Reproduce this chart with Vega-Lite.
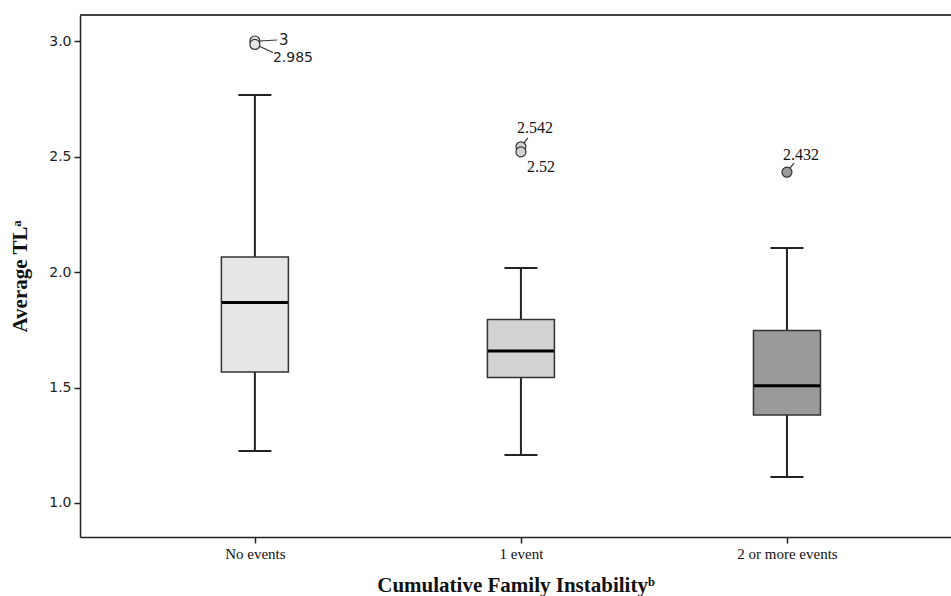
{
  "$schema": "https://vega.github.io/schema/vega-lite/v6.json",
  "width": 871,
  "height": 522,
  "autosize": "none",
  "padding": {"left": 80, "top": 15, "right": 0, "bottom": 59},
  "background": "white",
  "config": {"view": {"stroke": null}},
  "datasets": {
    "boxes": [
      {"group": "No events", "lower": 1.225, "q1": 1.567, "median": 1.868, "q3": 2.065, "upper": 2.766},
      {"group": "1 event", "lower": 1.208, "q1": 1.543, "median": 1.658, "q3": 1.794, "upper": 2.017},
      {"group": "2 or more events", "lower": 1.113, "q1": 1.381, "median": 1.508, "q3": 1.747, "upper": 2.104}
    ],
    "outliers": [
      {"group": "No events", "value": 3.0, "label": "3"},
      {"group": "No events", "value": 2.985, "label": "2.985"},
      {"group": "1 event", "value": 2.542, "label": "2.542"},
      {"group": "1 event", "value": 2.52, "label": "2.52"},
      {"group": "2 or more events", "value": 2.432, "label": "2.432"}
    ]
  },
  "encoding": {
    "x": {
      "field": "group",
      "type": "nominal",
      "sort": ["No events", "1 event", "2 or more events"],
      "scale": {"type": "point", "padding": 0.637, "align": 0.516},
      "axis": {
        "title": "Cumulative Family Instabilityᵇ",
        "labelAngle": 0,
        "labelFont": "Liberation Serif",
        "labelFontSize": 15,
        "labelColor": "#111",
        "labelPadding": 3,
        "tickSize": 6,
        "tickColor": "#222",
        "tickWidth": 1.5,
        "domainColor": "#222",
        "domainWidth": 1.5,
        "titleFont": "Liberation Serif",
        "titleFontSize": 21,
        "titleFontWeight": "bold",
        "titleColor": "#111",
        "titlePadding": 13
      }
    }
  },
  "layer": [
    {
      "data": {"values": [{}]},
      "mark": {"type": "rule", "stroke": "#444", "strokeWidth": 2},
      "encoding": {"x": null, "y": {"datum": 3.1126, "type": "quantitative"}}
    },
    {
      "data": {"name": "boxes"},
      "mark": {"type": "rule", "stroke": "#222", "strokeWidth": 2},
      "encoding": {
        "y": {
          "field": "lower",
          "type": "quantitative",
          "scale": {"domain": [0.8528, 3.1126], "nice": false, "zero": false},
          "axis": {
            "title": "Average TLᵃ",
            "values": [1.0, 1.5, 2.0, 2.5, 3.0],
            "format": ".1f",
            "grid": false,
            "labelFont": "DejaVu Sans",
            "labelFontSize": 14,
            "labelColor": "#222",
            "labelPadding": 3,
            "tickSize": 6,
            "tickColor": "#222",
            "tickWidth": 1.5,
            "domainColor": "#222",
            "domainWidth": 1.5,
            "titleFont": "Liberation Serif",
            "titleFontSize": 21,
            "titleFontWeight": "bold",
            "titleColor": "#111",
            "titlePadding": 18
          }
        },
        "y2": {"field": "upper"}
      }
    },
    {
      "data": {"name": "boxes"},
      "mark": {"type": "tick", "color": "#222", "size": 33, "thickness": 2, "opacity": 1},
      "encoding": {"y": {"field": "lower", "type": "quantitative"}}
    },
    {
      "data": {"name": "boxes"},
      "mark": {"type": "tick", "color": "#222", "size": 33, "thickness": 2, "opacity": 1},
      "encoding": {"y": {"field": "upper", "type": "quantitative"}}
    },
    {
      "data": {"name": "boxes"},
      "mark": {"type": "bar", "size": 67, "stroke": "#333", "strokeWidth": 1.5},
      "encoding": {
        "y": {"field": "q1", "type": "quantitative"},
        "y2": {"field": "q3"},
        "fill": {
          "field": "group",
          "type": "nominal",
          "scale": {"domain": ["No events", "1 event", "2 or more events"], "range": ["#e6e6e6", "#d2d2d2", "#9a9a9a"]},
          "legend": null
        }
      }
    },
    {
      "data": {"name": "boxes"},
      "mark": {"type": "tick", "color": "#000", "size": 66, "thickness": 3, "opacity": 1},
      "encoding": {"y": {"field": "median", "type": "quantitative"}}
    },
    {
      "data": {"name": "outliers"},
      "mark": {"type": "point", "shape": "circle", "size": 100, "filled": true, "stroke": "#333", "strokeWidth": 1.2, "opacity": 1},
      "encoding": {
        "y": {"field": "value", "type": "quantitative"},
        "fill": {"field": "group", "type": "nominal", "scale": {"domain": ["No events", "1 event", "2 or more events"], "range": ["#e6e6e6", "#c8c8c8", "#9a9a9a"]}, "legend": null}
      }
    },
    {
      "data": {"name": "outliers"},
      "transform": [{"filter": "datum.label === '3'"}],
      "layer": [
        {"mark": {"type": "point", "shape": "M5,0L22,-1", "size": 4, "filled": false, "stroke": "#333", "strokeWidth": 1.2, "opacity": 1}, "encoding": {"y": {"field": "value", "type": "quantitative"}}},
        {"mark": {"type": "text", "align": "left", "baseline": "middle", "dx": 24, "dy": -1, "font": "DejaVu Sans", "fontSize": 15, "color": "#222"}, "encoding": {"y": {"field": "value", "type": "quantitative"}, "text": {"field": "label"}}}
      ]
    },
    {
      "data": {"name": "outliers"},
      "transform": [{"filter": "datum.label === '2.985'"}],
      "layer": [
        {"mark": {"type": "point", "shape": "M5,2L18,8", "size": 4, "filled": false, "stroke": "#333", "strokeWidth": 1.2, "opacity": 1}, "encoding": {"y": {"field": "value", "type": "quantitative"}}},
        {"mark": {"type": "text", "align": "left", "baseline": "middle", "dx": 18, "dy": 14, "font": "DejaVu Sans", "fontSize": 14, "color": "#222"}, "encoding": {"y": {"field": "value", "type": "quantitative"}, "text": {"field": "label"}}}
      ]
    },
    {
      "data": {"name": "outliers"},
      "transform": [{"filter": "datum.label === '2.542'"}],
      "layer": [
        {"mark": {"type": "point", "shape": "M3,-4L7,-9", "size": 4, "filled": false, "stroke": "#333", "strokeWidth": 1.2, "opacity": 1}, "encoding": {"y": {"field": "value", "type": "quantitative"}}},
        {"mark": {"type": "text", "align": "left", "baseline": "middle", "dx": -4, "dy": -19, "font": "Liberation Serif", "fontSize": 16, "color": "#111"}, "encoding": {"y": {"field": "value", "type": "quantitative"}, "text": {"field": "label"}}}
      ]
    },
    {
      "data": {"name": "outliers"},
      "transform": [{"filter": "datum.label === '2.52'"}],
      "mark": {"type": "text", "align": "left", "baseline": "middle", "dx": 6, "dy": 15, "font": "Liberation Serif", "fontSize": 16, "color": "#111"},
      "encoding": {"y": {"field": "value", "type": "quantitative"}, "text": {"field": "label"}}
    },
    {
      "data": {"name": "outliers"},
      "transform": [{"filter": "datum.label === '2.432'"}],
      "layer": [
        {"mark": {"type": "point", "shape": "M3,-4L7,-9", "size": 4, "filled": false, "stroke": "#333", "strokeWidth": 1.2, "opacity": 1}, "encoding": {"y": {"field": "value", "type": "quantitative"}}},
        {"mark": {"type": "text", "align": "left", "baseline": "middle", "dx": -4, "dy": -17, "font": "Liberation Serif", "fontSize": 16, "color": "#111"}, "encoding": {"y": {"field": "value", "type": "quantitative"}, "text": {"field": "label"}}}
      ]
    }
  ]
}
